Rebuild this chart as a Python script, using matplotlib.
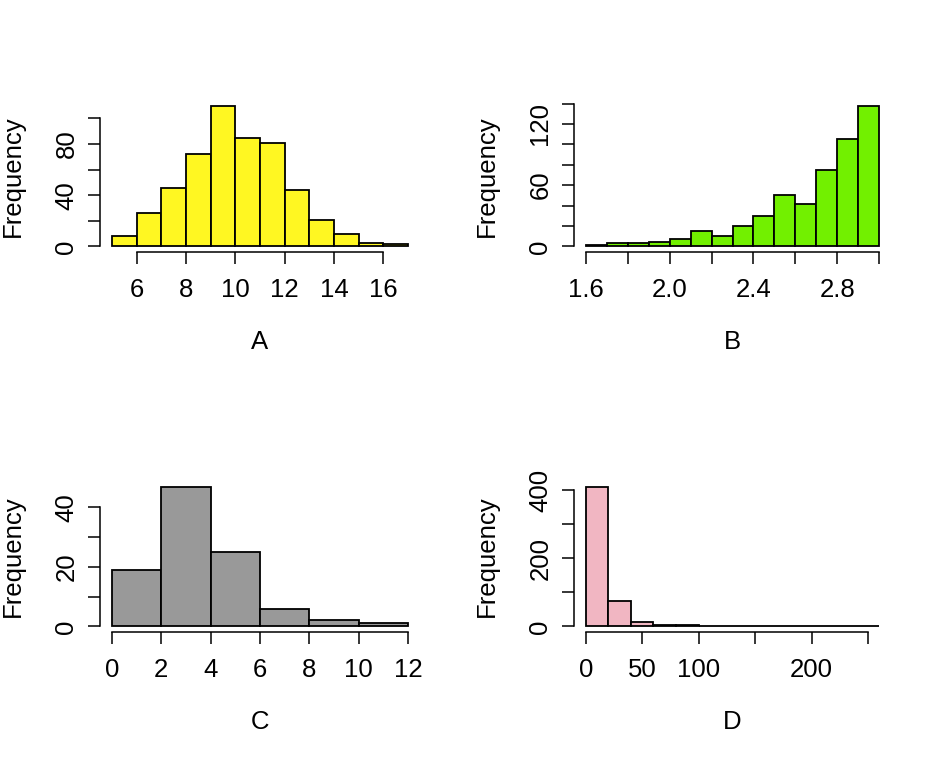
import numpy as np
import matplotlib
matplotlib.use("Agg")
import matplotlib.pyplot as plt

# =========================
# DATA
# =========================

a_edges = [5, 6, 7, 8, 9, 10, 11, 12, 13, 14, 15, 16, 17]
a_counts = [8, 26, 46, 72, 110, 85, 81, 44, 21, 10, 3, 2]

b_edges = [1.6, 1.7, 1.8, 1.9, 2.0, 2.1, 2.2, 2.3, 2.4, 2.5, 2.6, 2.7, 2.8, 2.9, 3.0]
b_counts = [1, 3, 3, 4, 7, 15, 10, 20, 30, 50, 42, 75, 105, 138]

c_edges = [0, 2, 4, 6, 8, 10, 12]
c_counts = [19, 47, 25, 6, 2, 1]

d_edges = [0, 20, 40, 60, 80, 100, 120, 140, 160, 180, 200, 220, 240, 260]
d_counts = [411, 76, 13, 3, 3, 0, 0, 2, 0, 0, 0, 0, 2]

labels = ["A", "B", "C", "D"]
colors = ["#FFF722", "#72F000", "#999999", "#F1B6C2"]

a_xticks = [6, 8, 10, 12, 14, 16]
a_xlabels = ["6", "8", "10", "12", "14", "16"]
a_yticks = [0, 20, 40, 60, 80, 100]
a_ylabels = ["0", "", "40", "", "80", ""]

b_xticks = [1.6, 1.8, 2.0, 2.2, 2.4, 2.6, 2.8, 3.0]
b_xlabels = ["1.6", "", "2.0", "", "2.4", "", "2.8", ""]
b_yticks = [0, 20, 40, 60, 80, 100, 120, 140]
b_ylabels = ["0", "", "", "60", "", "", "120", ""]

c_xticks = [0, 2, 4, 6, 8, 10, 12]
c_xlabels = ["0", "2", "4", "6", "8", "10", "12"]
c_yticks = [0, 10, 20, 30, 40]
c_ylabels = ["0", "", "20", "", "40"]

d_xticks = [0, 50, 100, 150, 200, 250]
d_xlabels = ["0", "50", "100", "", "200", ""]
d_yticks = [0, 100, 200, 300, 400]
d_ylabels = ["0", "", "200", "", "400"]

# =========================
# STYLE
# =========================

plt.rcParams["font.family"] = ["Liberation Sans", "DejaVu Sans"]
FS = 18.5

fig = plt.figure(figsize=(9.43, 7.58), dpi=100)
W, H = 943, 758

# plot regions in pixels: left, top, right, bottom
boxes = [
    (100, 100, 420, 252),
    (574, 100, 891, 252),
    (100, 481, 420, 632),
    (574, 481, 891, 632),
]

panels = [
    (a_edges, a_counts, a_xticks, a_xlabels, a_yticks, a_ylabels),
    (b_edges, b_counts, b_xticks, b_xlabels, b_yticks, b_ylabels),
    (c_edges, c_counts, c_xticks, c_xlabels, c_yticks, c_ylabels),
    (d_edges, d_counts, d_xticks, d_xlabels, d_yticks, d_ylabels),
]

for i, (edges, counts, xt, xl, yt, yl) in enumerate(panels):
    l, t, r, b = boxes[i]
    ax = fig.add_axes([l / W, 1 - b / H, (r - l) / W, (b - t) / H])

    edges = np.array(edges, dtype=float)
    ax.bar(edges[:-1], counts, width=np.diff(edges), align="edge",
           color=colors[i], edgecolor="black", linewidth=1.3)

    xr = edges[-1] - edges[0]
    ax.set_xlim(edges[0] - 0.04 * xr, edges[-1] + 0.04 * xr)
    ym = max(counts)
    ax.set_ylim(-0.04 * ym, ym * 1.04)

    for s in ["top", "right"]:
        ax.spines[s].set_visible(False)
    ax.spines["bottom"].set_bounds(xt[0], xt[-1])
    ax.spines["left"].set_bounds(yt[0], yt[-1])
    for s in ["bottom", "left"]:
        ax.spines[s].set_linewidth(1.1)

    ax.set_xticks(xt)
    ax.set_xticklabels(xl)
    ax.set_yticks(yt)
    ax.set_yticklabels(yl, rotation=90, va="center")

    ax.tick_params(axis="both", length=8.5, width=1.1, labelsize=FS)
    ax.tick_params(axis="x", pad=10.5)
    ax.tick_params(axis="y", pad=7)

    ax.set_xlabel(labels[i], fontsize=FS, labelpad=20)
    ax.set_ylabel("Frequency", fontsize=FS, labelpad=21)

fig.savefig("out.png", dpi=100)
